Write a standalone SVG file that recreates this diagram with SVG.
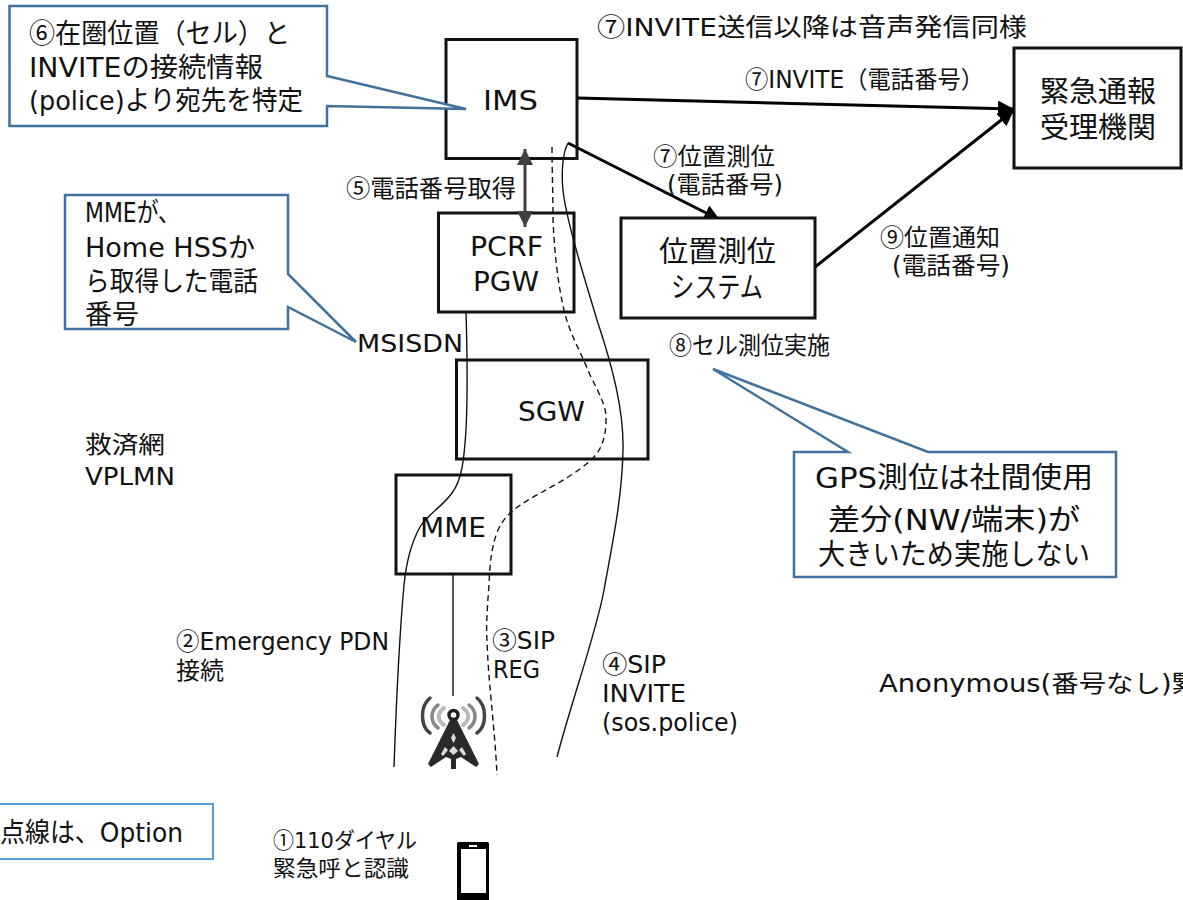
<svg xmlns="http://www.w3.org/2000/svg" width="1183" height="900" viewBox="0 0 1183 900">
<style>
text{font-family:"DejaVu Sans","Noto Sans CJK JP",sans-serif;fill:#111;font-size:25px}
.c{font-family:"Noto Sans CJK JP",sans-serif}
.box{fill:#fff;stroke:#111;stroke-width:3}
.call{fill:#fff;stroke:#41719c;stroke-width:2.5}
.t26{font-size:27px}
.t29{font-size:29px}
.t22{font-size:24px}
.t20{font-size:22px}
.wire{fill:none;stroke:#111;stroke-width:1.4}
.dash{fill:none;stroke:#111;stroke-width:1.4;stroke-dasharray:6 4}
.arr{fill:none;stroke:#000;stroke-width:3}
</style>
<defs>
<marker id="ah" markerUnits="userSpaceOnUse" markerWidth="20" markerHeight="20" refX="16" refY="8" orient="auto"><path d="M0 0L16 8L0 16z" fill="#000"/></marker>
<marker id="gh" markerUnits="userSpaceOnUse" markerWidth="20" markerHeight="20" refX="16" refY="8" orient="auto-start-reverse"><path d="M0 0L16 8L0 16z" fill="#404040"/></marker>
</defs>
<g id="ims"><rect class="box" x="446" y="39.500" width="131" height="119"/><text class="t26" x="483" y="110" textLength="55" lengthAdjust="spacingAndGlyphs">IMS</text></g>
<g id="pcrf"><rect class="box" x="438.500" y="213" width="135.500" height="99"/><text class="t26" x="470" y="256" textLength="73" lengthAdjust="spacingAndGlyphs">PCRF</text><text class="t26" x="473" y="291" textLength="66" lengthAdjust="spacingAndGlyphs">PGW</text></g>
<g id="sgw"><rect class="box" x="456.500" y="360" width="191.500" height="99"/><text class="t26" x="518" y="421" textLength="67" lengthAdjust="spacingAndGlyphs">SGW</text></g>
<g id="mme"><rect class="box" x="396" y="475" width="115" height="99"/><text class="t26" x="420" y="537" textLength="66" lengthAdjust="spacingAndGlyphs">MME</text></g>
<g id="agency"><rect class="box" x="1014" y="48" width="167" height="120"/><text class="t29" x="1040" y="102" textLength="116" lengthAdjust="spacingAndGlyphs">緊急通報</text><text class="t29" x="1040" y="138" textLength="116" lengthAdjust="spacingAndGlyphs">受理機関</text></g>
<g id="connectors">
<path class="wire" d="M466 312C467 345 468 390 466 430C464 460 462 480 452 493C442 507 428 514 420 527C410 545 406 565 404 585C399 640 396 710 394 767"/>
<path class="wire" d="M453 574V696"/>
<path class="dash" d="M552 147C552 170 553 195 553 217C554 250 558 285 564 310C570 335 580 350 590 375C600 395 607 408 606 420C606 440 600 452 590 461C572 477 545 490 530 499C515 508 505 515 498 530C492 545 490 560 489 585C487 610 486 630 487 640C488 680 495 730 497 775"/>
<path class="wire" d="M568 143C563 152 561 172 563 190C566 220 585 280 597 320C612 365 624 410 623 450C622 500 612 545 604 590C597 630 572 700 557 757"/>
<path d="M525 149V227" fill="none" stroke="#404040" stroke-width="3" marker-start="url(#gh)" marker-end="url(#gh)"/>
<path class="arr" d="M577 98L1014 109" marker-end="url(#ah)"/>
<path class="arr" d="M815 267L1014 110" marker-end="url(#ah)"/>
<path class="arr" d="M568 143L720 220" marker-end="url(#ah)"/>
</g>
<g id="positioning"><rect class="box" x="621" y="218" width="194" height="100"/><text class="t29" x="659" y="262" textLength="117" lengthAdjust="spacingAndGlyphs">位置測位</text><text class="t29" x="671" y="298" textLength="92" lengthAdjust="spacingAndGlyphs">システム</text></g>
<g id="callout-6"><path class="call" d="M9.500 6H327V76L466 109L327 106V126H9.500z"/><text class="t26" x="29" y="43" textLength="261" lengthAdjust="spacingAndGlyphs"><tspan class="c">⑥</tspan>在圏位置（セル）と</text><text class="t26" x="29" y="77" textLength="234" lengthAdjust="spacingAndGlyphs">INVITEの接続情報</text><text class="t26" x="29" y="110" textLength="274" lengthAdjust="spacingAndGlyphs">(police)より宛先を特定</text></g>
<g id="callout-mme"><path class="call" d="M65 195H288V274L356 342L288 307V329H65z"/><text class="t26" x="85" y="222" textLength="95" lengthAdjust="spacingAndGlyphs">MMEが、</text><text class="t26" x="85" y="257" textLength="170" lengthAdjust="spacingAndGlyphs">Home HSSか</text><text class="t26" x="85" y="291" textLength="173" lengthAdjust="spacingAndGlyphs">ら取得した電話</text><text class="t26" x="85" y="324" textLength="54" lengthAdjust="spacingAndGlyphs">番号</text></g>
<g id="callout-gps"><path class="call" d="M794 452H848L713 369L928 452H1116V577H794z"/><text class="t29" x="815" y="488" textLength="278" lengthAdjust="spacingAndGlyphs">GPS測位は社間使用</text><text class="t29" x="828" y="530" textLength="252" lengthAdjust="spacingAndGlyphs">差分(NW/端末)が</text><text class="t29" x="818" y="565" textLength="272" lengthAdjust="spacingAndGlyphs">大きいため実施しない</text></g>
<g id="note-option"><rect x="-4" y="804" width="217" height="55" fill="#fff" stroke="#5b9bd5" stroke-width="2"/><text class="t26" x="0" y="842" textLength="183" lengthAdjust="spacingAndGlyphs">点線は、Option</text></g>
<g id="tower">
<g fill="none" stroke-linecap="round">
<path d="M430 698C420 706 420 726 430 733M477 698C487 706 487 726 477 733" stroke="#444" stroke-width="3.500"/>
<path d="M438 705C430 711 430 722 438 728M469 705C477 711 477 722 469 728" stroke="#888" stroke-width="3.500"/>
<path d="M444 708C437 713 437 720 444 725M463 708C470 713 470 720 463 725" stroke="#bbb" stroke-width="4"/>
</g>
<circle cx="453.500" cy="715" r="4.500" fill="#fff" stroke="#222" stroke-width="3.500"/>
<path d="M450 720H457L479 764L476 767L461 757L456 759V769H451V759L446 757L431 767L428 764Z" fill="#2a2a2a"/>
<path d="M453.500 733L456 738L453.500 743L451 738ZM453.500 746L458 751L453.500 755L449 751ZM445 747L448 750L443 756L441 754ZM462 747L459 750L464 756L466 754Z" fill="#ddd"/>
</g>
<g id="phone"><rect x="457" y="842" width="32" height="60" rx="1.500" fill="#000"/><rect x="461" y="849" width="25" height="44" fill="#fff"/><rect x="469" y="845" width="8" height="2" fill="#fff"/></g>
<g id="labels">
<text x="597" y="36" textLength="430" lengthAdjust="spacingAndGlyphs"><tspan class="c">⑦</tspan>INVITE送信以降は音声発信同様</text>
<text class="t22" x="745" y="88" textLength="239" lengthAdjust="spacingAndGlyphs"><tspan class="c">⑦</tspan>INVITE（電話番号）</text>
<text class="t22" x="653" y="165" textLength="122" lengthAdjust="spacingAndGlyphs"><tspan class="c">⑦</tspan>位置測位</text>
<text class="t22" x="667" y="193" textLength="116" lengthAdjust="spacingAndGlyphs">(電話番号)</text>
<text class="t22" x="880" y="246" textLength="120" lengthAdjust="spacingAndGlyphs"><tspan class="c">⑨</tspan>位置通知</text>
<text class="t22" x="892" y="274" textLength="118" lengthAdjust="spacingAndGlyphs">(電話番号)</text>
<text class="t22" x="669" y="354" textLength="161" lengthAdjust="spacingAndGlyphs"><tspan class="c">⑧</tspan>セル測位実施</text>
<text class="t22" x="346" y="197" textLength="170" lengthAdjust="spacingAndGlyphs"><tspan class="c">⑤</tspan>電話番号取得</text>
<text x="357" y="352" textLength="106" lengthAdjust="spacingAndGlyphs">MSISDN</text>
<text class="t22" x="85" y="453" textLength="80" lengthAdjust="spacingAndGlyphs">救済網</text>
<text x="85" y="485" textLength="90" lengthAdjust="spacingAndGlyphs">VPLMN</text>
<text class="t22" x="176" y="650" textLength="213" lengthAdjust="spacingAndGlyphs"><tspan class="c">②</tspan>Emergency PDN</text>
<text class="t22" x="176" y="679" textLength="48" lengthAdjust="spacingAndGlyphs">接続</text>
<text class="t22" x="492" y="649" textLength="63" lengthAdjust="spacingAndGlyphs"><tspan class="c">③</tspan>SIP</text>
<text class="t22" x="493" y="678" textLength="47" lengthAdjust="spacingAndGlyphs">REG</text>
<text class="t22" x="602" y="673" textLength="64" lengthAdjust="spacingAndGlyphs"><tspan class="c">④</tspan>SIP</text>
<text class="t22" x="602" y="702" textLength="84" lengthAdjust="spacingAndGlyphs">INVITE</text>
<text class="t22" x="602" y="731" textLength="136" lengthAdjust="spacingAndGlyphs">(sos.police)</text>
<text class="t22" x="879" y="692" textLength="320" lengthAdjust="spacingAndGlyphs">Anonymous(番号なし)緊</text>
<text class="t20" x="273" y="848" textLength="144" lengthAdjust="spacingAndGlyphs"><tspan class="c">①</tspan>110ダイヤル</text>
<text class="t20" x="273" y="876" textLength="136" lengthAdjust="spacingAndGlyphs">緊急呼と認識</text>
</g>
</svg>
